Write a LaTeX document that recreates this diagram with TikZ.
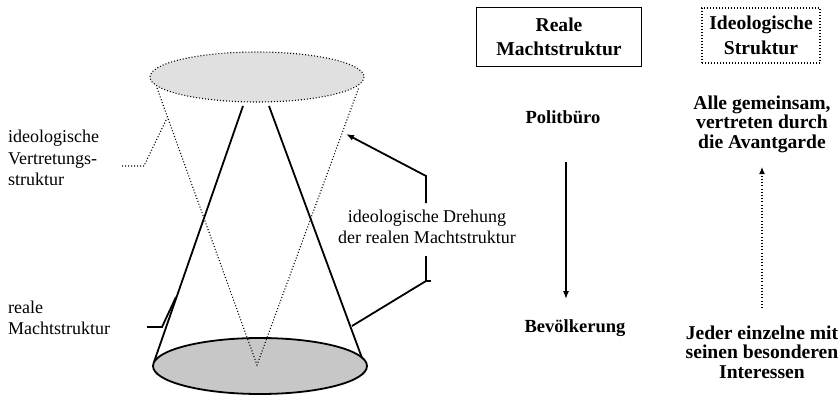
\documentclass[tikz,border=0pt]{standalone}
\usepackage{fontspec}
\setmainfont{Liberation Serif}
\usetikzlibrary{arrows.meta}
\begin{document}
\begin{tikzpicture}[x=1pt,y=-1pt,
  reg/.style={font=\fontsize{18}{21.5}\selectfont, align=left, inner sep=0pt},
  bld/.style={font=\fontsize{18.5}{20}\selectfont\bfseries, align=center, inner sep=0pt},
  bldl/.style={font=\fontsize{19.6}{19.5}\selectfont\bfseries, align=center, inner sep=0pt},
  solidln/.style={line width=1.8pt},
  dotln/.style={line width=1.1pt, dash pattern=on 1pt off 2pt},
  tip/.style={-{Latex[length=8pt,width=6pt]}}
]
\useasboundingbox (0,0) rectangle (839,396);
% ellipses
\fill[black!12] (257,77) ellipse [x radius=107, y radius=25];
\draw[dotln] (257,77) ellipse [x radius=107, y radius=25];
\fill[black!22] (260,366) ellipse [x radius=107, y radius=28];
\draw[solidln] (260,366) ellipse [x radius=107, y radius=28];
% cone points
\coordinate (tl) at (243,106);
\coordinate (tr) at (269,106);
\coordinate (bl) at (154,362);
\coordinate (br) at (362,358);
\coordinate (dl) at (157,88);
\coordinate (dr) at (359,87);
\coordinate (apex) at (257,365);
\draw[solidln] (tl) -- (bl);
\draw[solidln] (tr) -- (br);
\draw[dotln] (dl) -- (apex) -- (dr);
% left labels
\begin{scope}
\clip (0,0) rectangle (120,184);
\node[reg, anchor=west] (vt) at (8,158) {ideologische\\Vertretungs-\\struktur};
\end{scope}
\node[reg, anchor=west] (rm) at (8,318) {reale\\Machtstruktur};
\coordinate (v1) at (122,166);
\coordinate (v2) at (144,166);
\coordinate (v3) at (167,118);
\draw[dotln] (v1) -- (v2) -- (v3);
\coordinate (r1) at (147,327);
\coordinate (r2) at (162,327);
\coordinate (r3) at (176,297);
\draw[solidln] (r1) -- (r2) -- (r3);
% bracket
\node[reg, align=center] (dreh) at (427,227) {ideologische Drehung\\der realen Machtstruktur};
\coordinate (b1) at (426,176);
\coordinate (b2) at (426,203);
\coordinate (b3) at (426,256);
\coordinate (b4) at (426,281);
\coordinate (b5) at (431,281);
\coordinate (bt) at (346,134);
\coordinate (bb) at (352,326);
\draw[solidln, tip] (b2) -- (b1) -- (bt);
\draw[solidln] (b3) -- (b4) -- (bb);
\draw[solidln] (b4) -- (b5);
% right side
\node[bldl, draw, line width=1.6pt, minimum width=165pt, minimum height=59pt] (rbox) at (559,37) {Reale\\[5pt]Machtstruktur};
\node[bldl, draw, line width=1.1pt, dash pattern=on 1pt off 2pt, minimum width=118pt, minimum height=55pt] (ibox) at (761,35.5) {Ideologische\\[5pt]Struktur};
\node[bld] (pb) at (563,117) {Politbüro};
\node[bld] (bev) at (575,328) {Bevölkerung};
\coordinate (a1) at (566,162);
\coordinate (a2) at (566,299);
\draw[line width=1.2pt, tip] (a1) -- (a2);
\node[bldl] (alle) at (762,124) {Alle gemeinsam,\\vertreten durch\\die Avantgarde};
\node[bldl] (jeder) at (762,352) {Jeder einzelne mit\\seinen besonderen\\Interessen};
\coordinate (d1) at (762,308);
\coordinate (d2) at (762,167);
\draw[line width=1.1pt, dash pattern=on 1pt off 2.2pt, -{Latex[length=7pt,width=6pt]}] (d1) -- (d2);
\end{tikzpicture}
\end{document}
